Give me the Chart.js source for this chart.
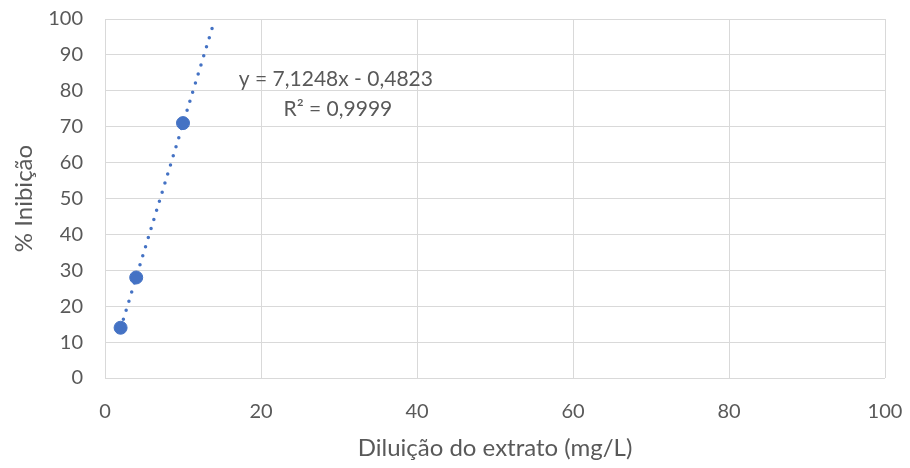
<!DOCTYPE html>
<html>
<head>
<meta charset="utf-8">
<script src="https://cdn.jsdelivr.net/npm/chart.js@4/dist/chart.umd.min.js"></script>
<style>
  html, body { margin: 0; padding: 0; background: #ffffff; }
  #wrap { width: 910px; height: 468px; }
</style>
</head>
<body>
<div id="wrap"><canvas id="chart" width="910" height="468"></canvas></div>
<script>
const dilution = [2, 4, 10];
const inhibition = [14, 28, 71];
const trendX = [2, 14];
const trendY = [13.8, 99.3];
const xTicks = [0, 20, 40, 60, 80, 100];
const yTicks = [0, 10, 20, 30, 40, 50, 60, 70, 80, 90, 100];
const equationLines = ["y = 7,1248x - 0,4823", "R² = 0,9999"];

const TEXT_COLOR = "#595959";
const GRID_COLOR = "#d9d9d9";
const BLUE = "#4472c4";
const FONT = "Lato, 'Open Sans', sans-serif";

// trendline label, anchored in data units
const labelAt = { x: 29.6, y1: 83.2, y2: 74.8 };

const equationLabel = {
  id: "equationLabel",
  afterDatasetsDraw(chart) {
    const { ctx, scales } = chart;
    const cx = scales.x.getPixelForValue(labelAt.x);
    ctx.save();
    ctx.fillStyle = TEXT_COLOR;
    ctx.font = `21px ${FONT}`;
    ctx.textAlign = "center";
    ctx.textBaseline = "middle";
    ctx.fillText(equationLines[0], cx, scales.y.getPixelForValue(labelAt.y1));
    ctx.fillText(equationLines[1], cx + 2, scales.y.getPixelForValue(labelAt.y2));
    ctx.restore();
  },
};

new Chart(document.getElementById("chart"), {
  type: "scatter",
  data: {
    datasets: [
      {
        label: "Trend",
        data: trendX.map((x, i) => ({ x, y: trendY[i] })),
        showLine: true,
        borderColor: BLUE,
        borderWidth: 3.5,
        borderDash: [0, 9.5],
        borderCapStyle: "round",
        pointRadius: 0,
        fill: false,
      },
      {
        label: "% Inibição",
        data: dilution.map((x, i) => ({ x, y: inhibition[i] })),
        backgroundColor: BLUE,
        borderColor: BLUE,
        pointRadius: 6.5,
      },
    ],
  },
  options: {
    responsive: false,
    animation: false,
    layout: { padding: { top: 19, right: 25, left: 0, bottom: 0 } },
    plugins: {
      legend: { display: false },
      tooltip: { enabled: false },
    },
    scales: {
      x: {
        type: "linear",
        min: 0,
        max: 100,
        afterBuildTicks: (scale) => {
          scale.ticks = xTicks.map((value) => ({ value }));
        },
        afterFit: (scale) => {
          scale.height = 90;
          scale.paddingLeft = 0;
          scale.paddingRight = 0;
        },
        ticks: { color: TEXT_COLOR, font: { family: FONT, size: 20 }, padding: 22 },
        grid: { color: GRID_COLOR, drawTicks: false },
        border: { display: false },
        title: {
          display: true,
          text: "Diluição do extrato (mg/L)",
          color: TEXT_COLOR,
          font: { family: FONT, size: 24 },
          padding: { top: 4, bottom: 5 },
        },
      },
      y: {
        type: "linear",
        min: 0,
        max: 100,
        afterBuildTicks: (scale) => {
          scale.ticks = yTicks.map((value) => ({ value }));
        },
        afterFit: (scale) => {
          scale.width = 105;
          scale.paddingTop = 0;
          scale.paddingBottom = 0;
        },
        ticks: { color: TEXT_COLOR, font: { family: FONT, size: 20 }, padding: 22 },
        grid: { color: GRID_COLOR, drawTicks: false },
        border: { display: false },
        title: {
          display: true,
          text: "% Inibição",
          color: TEXT_COLOR,
          font: { family: FONT, size: 24 },
          padding: { bottom: 0, top: 10 },
        },
      },
    },
  },
  plugins: [equationLabel],
});
</script>
</body>
</html>
